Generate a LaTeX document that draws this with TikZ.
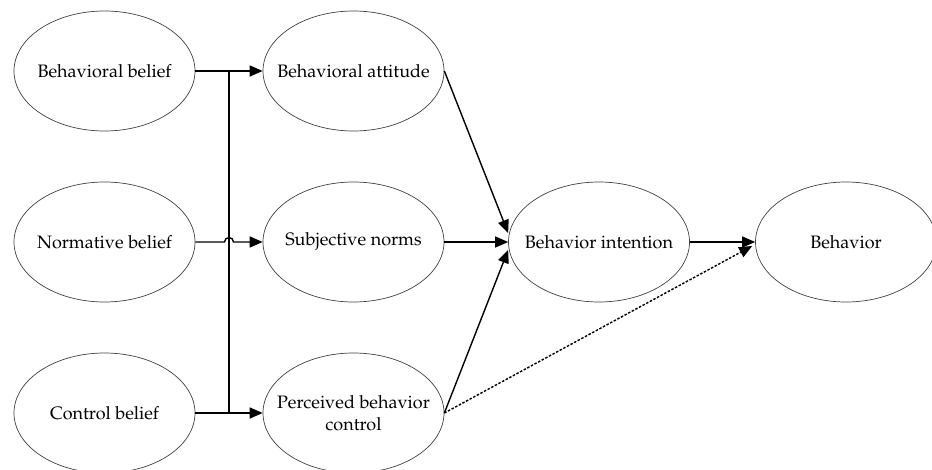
\documentclass[tikz,border=0pt]{standalone}
\usepackage[T1]{fontenc}
\usepackage{mathpazo}
\usetikzlibrary{shapes.geometric,arrows.meta,calc}
\begin{document}
\begin{tikzpicture}[x=1pt,y=-1pt,
  oval/.style={ellipse,draw=black!75,line width=0.7pt,minimum width=181pt,minimum height=120pt,inner sep=0pt},
  lbl/.style={align=center,inner sep=0pt,font=\fontsize{18}{22}\selectfont},
  conn/.style={line width=1.4pt},
  arr/.style={line width=1.4pt,-{Triangle[length=13pt,width=11pt]}},
  dotarr/.style={arr,dash pattern=on 2.5pt off 1.6pt}]
\useasboundingbox (0,0) rectangle (932,470);
\clip (0,0) rectangle (932,470);
\node[oval] (bb) at (104.5,71) {};
\node[oval] (nb) at (104.5,242) {};
\node[oval] (cb) at (104.5,413) {};
\node[oval] (ba) at (353.5,71) {};
\node[oval] (sn) at (353.5,242) {};
\node[oval] (pc) at (353.5,413) {};
\node[oval] (bi) at (599,242) {};
\node[oval] (be) at (846,242) {};
\node[lbl] (tbb) at (bb) {Behavioral belief};
\node[lbl] (tnb) at (nb) {Normative belief};
\node[lbl] (tcb) at (cb) {Control belief};
\node[lbl] (tba) at (ba) {Behavioral attitude};
\node[lbl] (tsn) at (sn) {Subjective norms};
\node[lbl] (tpc) at (pc) {Perceived behavior\\control};
\node[lbl] (tbi) at (bi) {Behavior intention};
\node[lbl] (tbe) at (be) {Behavior};
\coordinate (vtop) at (229,71);
\coordinate (vbot) at (229,413);
\draw[conn] (vtop) -- (vbot);
\draw[arr] (bb.east) -- (ba.west);
\draw[arr] (cb.east) -- (pc.west);
\draw[arr] (nb.east) -- ($(vtop|-nb.east)+(-4.5,0)$) arc[start angle=180,end angle=0,radius=4.5pt] -- (sn.west);
\draw[arr] (ba.east) -- ($(bi.west)+(0,-9)$);
\draw[arr] (sn.east) -- (bi.west);
\draw[arr] (pc.east) -- ($(bi.west)+(0,8)$);
\draw[arr] (bi.east) -- (be.west);
\draw[dotarr] (pc.east) -- ($(be.west)+(-3,4)$);
\end{tikzpicture}
\end{document}
